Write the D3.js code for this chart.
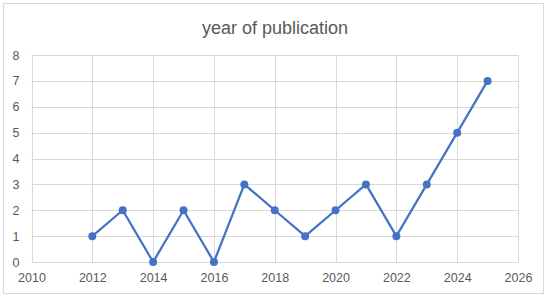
<!DOCTYPE html>
<html lang="en">
<head>
  <meta charset="UTF-8">
  <title>year of publication</title>
  <script src="https://cdn.jsdelivr.net/npm/d3@7/dist/d3.min.js"></script>
  <style>
  body { margin: 0; background: #fff; }
  .chart text { fill: #595959; font-family: "Liberation Sans", Arial, sans-serif; }
  .grid line { stroke: #d9d9d9; stroke-width: 1; }
  </style>
</head>
<body>
  <svg class="chart" width="550" height="298"></svg>
  <script>
  // values
  const years = [2012, 2013, 2014, 2015, 2016, 2017, 2018, 2019, 2020, 2021, 2022, 2023, 2024, 2025];
  const counts = [1, 2, 0, 2, 0, 3, 2, 1, 2, 3, 1, 3, 5, 7];
  const xTicks = [2010, 2012, 2014, 2016, 2018, 2020, 2022, 2024, 2026];
  const yTicks = [0, 1, 2, 3, 4, 5, 6, 7, 8];
  const title = 'year of publication';

  const svg = d3.select('svg.chart');
  const W = 550, H = 298;
  const m = {left: 31.5, right: 32, top: 55, bottom: 36};

  // outer frame
  svg.append('rect')
    .attr('x', 3.5).attr('y', 3.5)
    .attr('width', 540).attr('height', 290)
    .attr('fill', '#fff').attr('stroke', '#d9d9d9');

  const x = d3.scaleLinear().domain([2010, 2026]).range([m.left, W - m.right]);
  const y = d3.scaleLinear().domain([0, 8]).range([H - m.bottom, m.top]);

  // gridlines
  const grid = svg.append('g').attr('class', 'grid');
  grid.selectAll('line.h').data(yTicks).join('line')
    .attr('class', 'h')
    .attr('x1', x(2010)).attr('x2', x(2026))
    .attr('y1', d => Math.round(y(d)) + 0.5).attr('y2', d => Math.round(y(d)) + 0.5);
  grid.selectAll('line.v').data(xTicks).join('line')
    .attr('class', 'v')
    .attr('x1', d => Math.round(x(d)) + 0.5).attr('x2', d => Math.round(x(d)) + 0.5)
    .attr('y1', y(0)).attr('y2', y(8));

  // axes (labels only, lines come from the grid)
  const xAxis = svg.append('g')
    .attr('transform', `translate(0,${y(0) + 8})`)
    .call(d3.axisBottom(x).tickValues(xTicks).tickFormat(d3.format('d')).tickSize(0));
  xAxis.select('.domain').remove();
  xAxis.selectAll('text').attr('font-size', 12.5);

  const yAxis = svg.append('g')
    .attr('transform', `translate(${m.left - 9},0)`)
    .call(d3.axisLeft(y).tickValues(yTicks).tickSize(0));
  yAxis.select('.domain').remove();
  yAxis.selectAll('text').attr('font-size', 12.5);

  // title
  svg.append('text')
    .attr('x', W / 2).attr('y', 34)
    .attr('text-anchor', 'middle')
    .attr('font-size', 18)
    .text(title);

  // series
  const pts = years.map((yr, i) => ({yr, v: counts[i]}));
  svg.append('path')
    .datum(pts)
    .attr('fill', 'none')
    .attr('stroke', '#4472c4')
    .attr('stroke-width', 2.25)
    .attr('stroke-linejoin', 'round')
    .attr('d', d3.line().x(d => x(d.yr)).y(d => y(d.v)));

  svg.selectAll('circle.pt').data(pts).join('circle')
    .attr('class', 'pt')
    .attr('cx', d => x(d.yr)).attr('cy', d => y(d.v))
    .attr('r', 4)
    .attr('fill', '#4472c4');
  </script>
</body>
</html>
